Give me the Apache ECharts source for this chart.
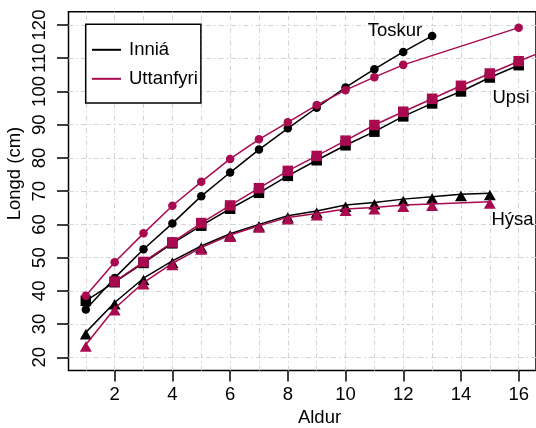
<!DOCTYPE html>
<html>
<head>
<meta charset="utf-8">
<script src="https://cdn.jsdelivr.net/npm/echarts@6/dist/echarts.min.js"></script>
<style>
  html, body { margin: 0; padding: 0; background: #fff; }
  #chart { width: 536px; height: 428px; }
</style>
</head>
<body>
<div id="chart"></div>
<script>
// Mean length at age (cm) for three species, inside vs outside the fjord
const ages = [1, 2, 3, 4, 5, 6, 7, 8, 9, 10, 11, 12, 13, 14, 15, 16, 17];

const toskurInnia = [34.4, 43.9, 52.5, 60.3, 68.5, 75.6, 82.5, 88.9, 95.1, 101.2, 106.7, 111.9, 116.7, null, null, null, null];
const toskurUttan = [38.5, 48.6, 57.3, 65.6, 72.8, 79.7, 85.6, 90.7, 95.9, 100.4, 104.3, 108.0, null, null, null, 119.2, null];
const upsiInnia   = [37.0, 42.6, 48.4, 54.3, 59.6, 64.7, 69.5, 74.6, 79.3, 83.8, 87.9, 92.5, 96.4, 100.0, 104.2, 107.9, null];
const upsiUttan   = [null, 42.8, 48.7, 54.6, 60.4, 65.7, 70.9, 76.1, 80.6, 85.2, 89.9, 93.9, 97.8, 101.7, 105.4, 109.1, 112.6];
const hysaInnia   = [27.5, 36.5, 43.8, 49.0, 53.5, 57.2, 60.0, 62.6, 64.0, 65.8, 66.6, 67.6, 68.3, 69.1, 69.4, null, null];
const hysaUttan   = [23.8, 34.7, 42.5, 48.3, 53.0, 56.8, 59.6, 62.1, 63.3, 64.6, 65.1, 65.8, 66.1, null, 66.8, null, null];

const xTicks = [2, 4, 6, 8, 10, 12, 14, 16];
const yTicks = [20, 30, 40, 50, 60, 70, 80, 90, 100, 110, 120];
const xGrid = [1, 2, 3, 4, 5, 6, 7, 8, 9, 10, 11, 12, 13, 14, 15, 16];

const groupNames = ['Inniá', 'Uttanfyri'];
const speciesNames = ['Toskur', 'Upsi', 'Hýsa'];

const FONT = '"Liberation Sans", Arial, Helvetica, sans-serif';
const FS = 18.5;
const BLACK = '#000000';
const PINK = '#A8094F';

function pairs(values) {
  const out = [];
  values.forEach((v, i) => { if (v !== null) out.push([ages[i], v]); });
  return out;
}

function makeSeries(name, values, color, symbol, size, offset, z) {
  return {
    name: name,
    type: 'line',
    data: pairs(values),
    symbol: symbol,
    symbolSize: size,
    symbolOffset: offset,
    showAllSymbol: true,
    clip: true,
    z: z,
    lineStyle: { color: color, width: 1.5 },
    itemStyle: { color: color, borderWidth: 0 },
    emphasis: { disabled: true },
    animation: false
  };
}

function label(text, x, y, rotation) {
  return {
    type: 'text', x: x, y: y, rotation: rotation || 0, z: 10,
    style: { text: text, font: FS + 'px ' + FONT, fill: BLACK, textAlign: 'center', textVerticalAlign: 'middle' }
  };
}

const chart = echarts.init(document.getElementById('chart'), null, { renderer: 'canvas' });

const series = [
  // dashed reference grid, kept underneath everything else
  {
    type: 'line',
    data: [],
    z: 1,
    silent: true,
    markLine: {
      z: 1,
      silent: true,
      symbol: 'none',
      animation: false,
      label: { show: false },
      lineStyle: { color: '#d2d2d2', width: 1, type: [5, 3, 1.5, 3] },
      emphasis: { disabled: true },
      data: xGrid.map(v => ({ xAxis: v })).concat(yTicks.map(v => ({ yAxis: v })))
    }
  },
  makeSeries(groupNames[0], toskurInnia, BLACK, 'circle', 8.5, [0, 0], 2),
  makeSeries(groupNames[0], upsiInnia, BLACK, 'rect', 10.5, [0, 0], 2),
  makeSeries(groupNames[0], hysaInnia, BLACK, 'triangle', [12, 10.5], [0, 1.75], 2),
  makeSeries(groupNames[1], toskurUttan, PINK, 'circle', 8.5, [0, 0], 3),
  makeSeries(groupNames[1], upsiUttan, PINK, 'rect', 10.5, [0, 0], 3),
  makeSeries(groupNames[1], hysaUttan, PINK, 'triangle', [12, 10.5], [0, 1.75], 3)
];

chart.setOption({
  animation: false,
  backgroundColor: '#ffffff',
  textStyle: { fontFamily: FONT },
  grid: {
    left: 68.5, right: -1, top: 11.7, bottom: 57.4,
    show: true, borderColor: BLACK, borderWidth: 1.5,
    containLabel: false
  },
  xAxis: {
    type: 'value',
    min: 0.4, max: 16.6,
    splitLine: { show: false },
    axisLine: { show: false },
    axisTick: { show: true, length: 11, customValues: xTicks, lineStyle: { color: BLACK, width: 1.5 } },
    axisLabel: { show: true, customValues: xTicks, fontSize: FS, color: BLACK, margin: 15, fontFamily: FONT }
  },
  yAxis: {
    type: 'value',
    min: 16, max: 124,
    splitLine: { show: false },
    axisLine: { show: false },
    axisTick: { show: true, length: 11.5, customValues: yTicks, lineStyle: { color: BLACK, width: 1.5 } },
    axisLabel: { show: true, customValues: yTicks, rotate: 90, fontSize: FS, color: BLACK, margin: 19.5, fontFamily: FONT }
  },
  legend: {
    data: groupNames,
    orient: 'vertical',
    left: 85.7, top: 24.3,
    padding: [16, 3, 14.7, 6.3],
    itemGap: 10,
    itemWidth: 29, itemHeight: 2,
    icon: 'rect',
    z: 8,
    borderColor: BLACK, borderWidth: 1.5,
    backgroundColor: '#ffffff',
    selectedMode: false,
    itemStyle: { borderWidth: 0 },
    textStyle: { fontSize: FS, color: BLACK, fontFamily: FONT, padding: [0, 0, 0, 3] }
  },
  graphic: [
    label(speciesNames[0], 395, 31),
    label(speciesNames[1], 511, 98),
    label(speciesNames[2], 512.5, 220),
    label('Aldur', 319.5, 417.5),
    label('Longd (cm)', 15, 173.5, Math.PI / 2)
  ],
  series: series
});
</script>
</body>
</html>
